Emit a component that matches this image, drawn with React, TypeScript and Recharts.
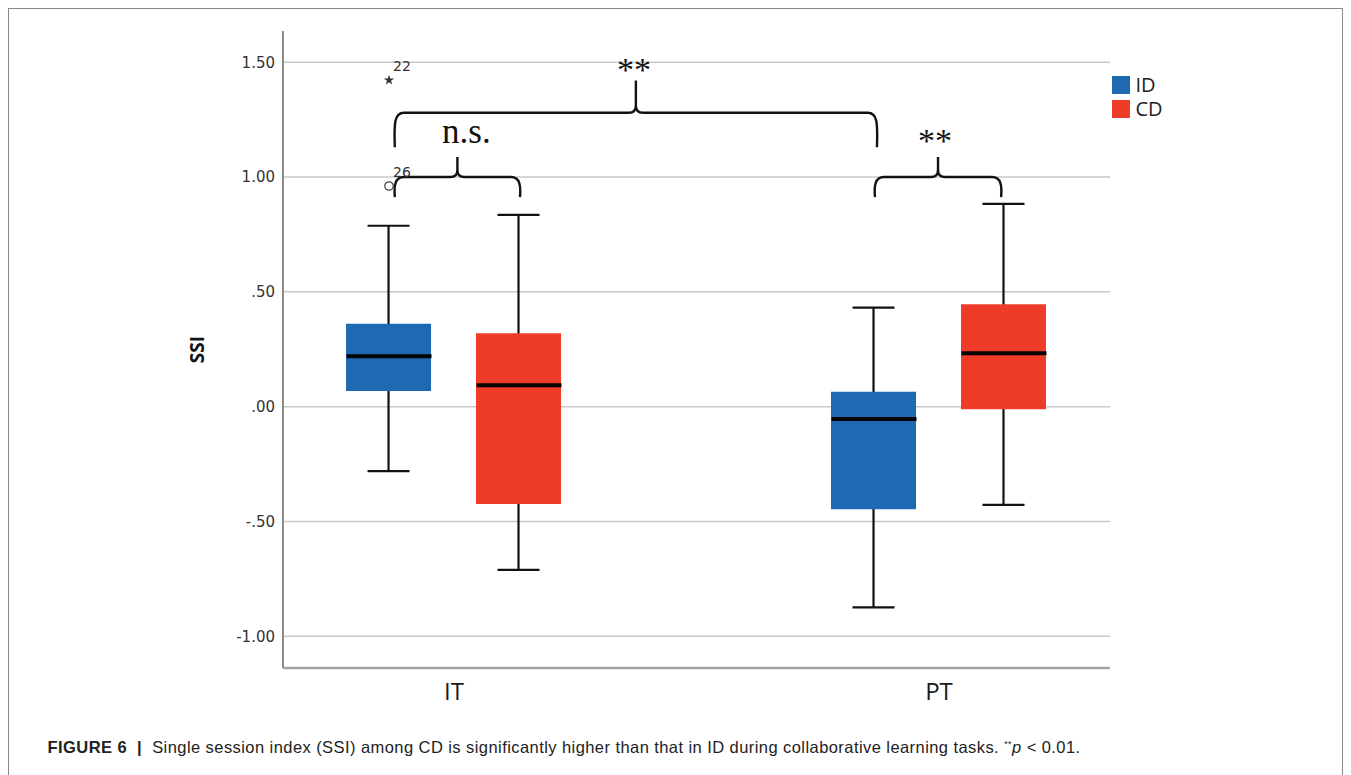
import React from "react";
import {
  Bar,
  Cell,
  XAxis,
  YAxis,
  Label,
  Legend,
  Scatter,
  Symbols,
  ReferenceArea,
  ComposedChart,
  CartesianGrid,
} from "recharts";

// categories on the x axis (numeric positions so the boxes can sit off-centre)
const categories = ["IT", "PT"];
const categoryPos = [0, 1];
const groups = ["ID", "CD"];

// one box per (category, group)
const boxX = [-0.134, 0.134, 0.866, 1.134];
const boxGroup = ["ID", "CD", "ID", "CD"];
const whiskerLow = [-0.281, -0.711, -0.874, -0.428];
const q1 = [0.068, -0.424, -0.447, -0.011];
const median = [0.22, 0.093, -0.054, 0.233];
const q3 = [0.361, 0.32, 0.065, 0.446];
const whiskerHigh = [0.788, 0.835, 0.431, 0.883];

// outliers of IT / ID
const outlierX = [-0.134, -0.134];
const outlierY = [1.422, 0.961];
const outlierCase = ["22", "26"];
const outlierKind = ["extreme", "outlier"];

// significance braces
const braceX1 = [-0.122, -0.122, 0.868];
const braceX2 = [0.136, 0.872, 1.128];
const braceEnd = [0.913, 1.13, 0.913];
const braceBar = [1.0, 1.28, 1.0];
const bracePeak = [1.087, 1.42, 1.087];
const braceText = ["n.s.", "**", "**"];

const yTicks = [-1, -0.5, 0, 0.5, 1, 1.5];

const COLORS: Record<string, string> = { ID: "#1f69b3", CD: "#ee3c29" };
// label placement relative to the brace tip (px)
const LABEL_DX = [9, -2, -3];
const LABEL_GAP = [14, 0, 5];

// the frame's padding box starts at (9.5, 9.5) on the page
const OX = -9.5;
const OY = -9.5;

const boxes = boxX.map((x, i) => ({
  x,
  group: boxGroup[i],
  whisker: [whiskerLow[i], whiskerHigh[i]],
  box: [q1[i], q3[i]],
  median: median[i],
}));

const outliers = outlierX.map((x, i) => ({
  x,
  y: outlierY[i],
  label: outlierCase[i],
  kind: outlierKind[i],
}));

const formatY = (v: number) => {
  const s = Math.abs(v).toFixed(2).replace(/^0/, "");
  return v < 0 ? `-${s}` : s;
};

const WhiskerShape = (props: any) => {
  const { x, y, width, height } = props;
  const cx = x + width / 2;
  const top = Math.min(y, y + height);
  const bottom = Math.max(y, y + height);
  return (
    <g stroke="#111" strokeWidth={2.2}>
      <line x1={cx} x2={cx} y1={top} y2={bottom} />
      <line x1={cx - 21} x2={cx + 21} y1={top} y2={top} />
      <line x1={cx - 21} x2={cx + 21} y1={bottom} y2={bottom} />
    </g>
  );
};

const MedianShape = (props: any) => {
  const { cx, cy } = props;
  return (
    <line
      x1={cx - 42.5}
      x2={cx + 42.5}
      y1={cy}
      y2={cy}
      stroke="#050505"
      strokeWidth={4}
    />
  );
};

const OutlierShape = (props: any) => {
  const { cx, cy, payload } = props;
  return (
    <g>
      {payload.kind === "extreme" ? (
        <Symbols cx={cx} cy={cy} type="star" size={34} fill="#333" />
      ) : (
        <circle cx={cx} cy={cy} r={4.2} fill="none" stroke="#444" strokeWidth={1.3} />
      )}
      <text
        x={cx + 4}
        y={cy - 9}
        fontFamily="DejaVu Sans"
        fontSize={14}
        fill="#333"
      >
        {payload.label}
      </text>
    </g>
  );
};

const braceShape = (i: number) => (props: any) => {
  const { x, y, width, height } = props;
  const left = x;
  const right = x + width;
  const top = y;
  const bottom = y + height;
  const barY =
    top + (height * (bracePeak[i] - braceBar[i])) / (bracePeak[i] - braceEnd[i]);
  const mid = x + width / 2;
  const r = 9;
  const d = [
    `M${left},${bottom}`,
    `C${left - 1},${barY + r} ${left},${barY} ${left + r},${barY}`,
    `L${mid - 7},${barY}`,
    `Q${mid},${barY} ${mid},${barY - 7}`,
    `L${mid},${top}`,
    `M${right},${bottom}`,
    `C${right + 1},${barY + r} ${right},${barY} ${right - r},${barY}`,
    `L${mid + 7},${barY}`,
    `Q${mid},${barY} ${mid},${barY - 7}`,
  ].join(" ");
  return <path d={d} fill="none" stroke="#111" strokeWidth={2.4} />;
};

const braceLabel = (i: number) => (p: any) => {
  const vb = p.viewBox;
  return (
    <text
      x={vb.x + vb.width / 2 + LABEL_DX[i]}
      y={vb.y - LABEL_GAP[i]}
      textAnchor="middle"
      fontFamily="Liberation Serif"
      fontSize={braceText[i] === "**" ? 34 : 35}
      fill="#111"
    >
      {braceText[i]}
    </text>
  );
};

const LegendContent = () => (
  <div style={{ fontFamily: "Open Sans", fontSize: 20, color: "#222" }}>
    {groups.map((g) => (
      <div
        key={g}
        style={{ display: "flex", alignItems: "center", height: 24 }}
      >
        <span
          style={{
            width: 18,
            height: 18,
            background: COLORS[g],
            marginRight: 6,
            display: "inline-block",
          }}
        />
        <span style={{ lineHeight: "24px" }}>{g}</span>
      </div>
    ))}
  </div>
);

export default function App() {
  return (
    <div
      style={{
        position: "relative",
        boxSizing: "border-box",
        width: 1335,
        height: 780,
        border: "1.5px solid #8a8a8a",
        background: "#fff",
      }}
    >
      <div style={{ position: "absolute", left: OX, top: OY }}>
        <ComposedChart
          width={1351}
          height={720}
          data={boxes}
          margin={{ top: 31, right: 241, bottom: 22, left: 203 }}
        >
          <CartesianGrid
            vertical={false}
            stroke="#c9c9c9"
            strokeWidth={1.5}
            horizontalValues={yTicks}
          />
          <XAxis
            xAxisId="main"
            dataKey="x"
            type="number"
            domain={[-0.3526, 1.3526]}
            ticks={categoryPos}
            tickFormatter={(v: number) => categories[Math.round(v)]}
            allowDataOverflow
            tickLine={false}
            tickSize={0}
            tickMargin={15}
            height={30}
            axisLine={{ stroke: "#a3a3a3", strokeWidth: 2.5 }}
            tick={{ fontFamily: "Open Sans", fontSize: 24, fill: "#1a1a1a", fontWeight: 500 }}
          />
          <XAxis
            xAxisId="box"
            dataKey="x"
            type="number"
            orientation="top"
            height={0}
            domain={[-0.3526, 1.3526]}
            allowDataOverflow
            hide
          />
          <YAxis
            type="number"
            domain={[-1.138, 1.636]}
            ticks={yTicks}
            allowDataOverflow
            width={80}
            tickFormatter={formatY}
            tickLine={false}
            tickSize={0}
            tickMargin={8}
            axisLine={{ stroke: "#8c8c8c", strokeWidth: 2 }}
            tick={{ fontFamily: "DejaVu Sans", fontSize: 15, fill: "#333" }}
          >
            <Label
              content={(p: any) => {
                const vb = p.viewBox;
                const cx = vb.x + 1;
                const cy = vb.y + vb.height / 2;
                return (
                  <text
                    x={cx}
                    y={cy}
                    transform={`rotate(-90, ${cx}, ${cy})`}
                    textAnchor="middle"
                    fontFamily="Open Sans"
                    fontWeight={700}
                    fontSize={19}
                    fill="#111"
                  >
                    SSI
                  </text>
                );
              }}
            />
          </YAxis>
          <Legend
            layout="vertical"
            align="center"
            verticalAlign="middle"
            content={<LegendContent />}
            wrapperStyle={{ position: "absolute", left: 1112, top: 73, width: 80 }}
          />
          <Bar
            xAxisId="main"
            dataKey="whisker"
            barSize={85}
            shape={WhiskerShape}
            isAnimationActive={false}
            legendType="none"
          />
          <Bar
            xAxisId="box"
            dataKey="box"
            barSize={85}
            isAnimationActive={false}
          >
            {boxes.map((b, i) => (
              <Cell key={i} fill={COLORS[b.group]} />
            ))}
          </Bar>
          <Scatter
            xAxisId="main"
            dataKey="median"
            shape={MedianShape}
            isAnimationActive={false}
          />
          <Scatter
            xAxisId="main"
            data={outliers}
            dataKey="y"
            shape={OutlierShape}
            isAnimationActive={false}
          />
          {braceText.map((t, i) => (
            <ReferenceArea
              key={i}
              xAxisId="main"
              x1={braceX1[i]}
              x2={braceX2[i]}
              y1={braceEnd[i]}
              y2={bracePeak[i]}
              shape={braceShape(i)}
              label={{ value: t, content: braceLabel(i) }}
            />
          ))}
        </ComposedChart>
      </div>
      <div
        style={{
          position: "absolute",
          left: 48 + OX,
          top: 738 + OY,
          fontFamily: "Liberation Sans",
          fontSize: 16.5,
          letterSpacing: 0.43,
          color: "#222",
          whiteSpace: "nowrap",
        }}
      >
        <b>FIGURE 6 &nbsp;|</b>&nbsp; Single session index (SSI) among CD is
        significantly higher than that in ID during collaborative learning
        tasks. <sup style={{ fontSize: 9 }}>**</sup>
        <i>p</i> &lt; 0.01.
      </div>
    </div>
  );
}
